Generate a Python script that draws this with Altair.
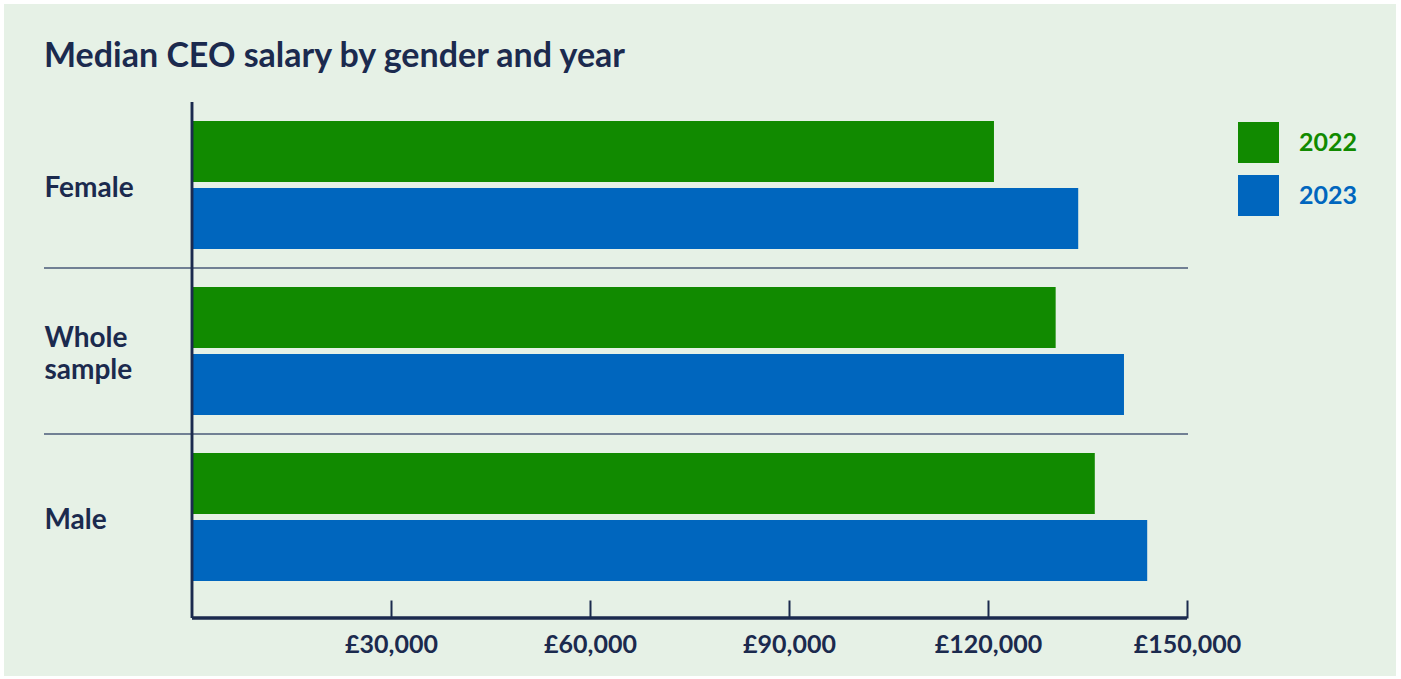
import altair as alt
import pandas as pd

groups = ["Female", "Whole sample", "Male"]
years = ["2022", "2023"]
salary_2022 = [120900, 130200, 136100]
salary_2023 = [133600, 140500, 144000]
tick_values = [30000, 60000, 90000, 120000, 150000]
year_colors = ["#118A00", "#0066BE"]

NAVY = "#1B2A4E"
BG = "#E6F1E6"
FONT = "Lato"

rows = []
for g, a, b in zip(groups, salary_2022, salary_2023):
    rows.append({"group": g, "year": years[0], "salary": a})
    rows.append({"group": g, "year": years[1], "salary": b})
df = pd.DataFrame(rows)
sep_df = pd.DataFrame({"group": groups[1:]})
panel_df = pd.DataFrame({"panel": ["bg"]})

x_scale = alt.Scale(domain=[0, 150000], nice=False, zero=True)
y_scale = alt.Scale(domain=groups, paddingInner=0, paddingOuter=0)

# light-green card behind the chart, leaving a thin white frame
panel = alt.Chart(panel_df).mark_rect(color=BG).encode(
    x=alt.value(-188), x2=alt.value(1204),
    y=alt.value(-98), y2=alt.value(574),
)

bars = alt.Chart(df).mark_bar().encode(
    x=alt.X("salary:Q", scale=x_scale, title=None,
            axis=alt.Axis(values=tick_values, domain=False, grid=False, zindex=1,
                          ticks=True, tickSize=18, tickWidth=2, tickColor=NAVY,
                          labelExpr="'£' + format(datum.value, ',')",
                          labelFlush=False, labelOverlap=False,
                          labelPadding=14, labelFontSize=25, labelFont=FONT,
                          labelFontWeight="bold", labelColor=NAVY)),
    y=alt.Y("group:N", sort=groups, scale=y_scale, title=None,
            axis=alt.Axis(domain=False, ticks=False, tickSize=0, grid=False, zindex=1,
                          labelAlign="left", labelPadding=148, labelFontSize=28,
                          labelFont=FONT, labelFontWeight="bold", labelColor=NAVY,
                          labelLineHeight=32, labelLimit=200,
                          labelOffset=alt.ExprRef("datum.value == 'Whole sample' ? -12 : 4"),
                          labelExpr="datum.value == 'Whole sample' ? ['Whole', 'sample'] : datum.value")),
    yOffset=alt.YOffset("year:N", sort=years,
                        scale=alt.Scale(paddingInner=0.09, paddingOuter=0.284)),
    color=alt.Color("year:N", sort=years,
                    scale=alt.Scale(domain=years, range=year_colors),
                    legend=alt.Legend(title=None, orient="none", legendX=1046, legendY=20,
                                      zindex=1,
                                      symbolType="square", symbolSize=1681,
                                      symbolStrokeWidth=0, symbolOpacity=1,
                                      labelFontSize=25, labelFont=FONT, labelFontWeight="bold",
                                      labelOffset=20, rowPadding=12, padding=0,
                                      labelColor=alt.ExprRef(
                                          "datum.label == '2022' ? '#118A00' : '#0066BE'"))),
)

seps = alt.Chart(sep_df).mark_rule(color="#4A5A78", strokeWidth=1.5).encode(
    y=alt.Y("group:N", sort=groups, scale=y_scale, bandPosition=0),
    x=alt.value(-148),
    x2=alt.value(996),
)

vline = alt.Chart(sep_df).mark_rule(color=NAVY, strokeWidth=2.5).encode(
    x=alt.datum(0),
    y=alt.value(0),
    y2=alt.value(516),
)

hline = alt.Chart(sep_df).mark_rule(color=NAVY, strokeWidth=3).encode(
    x=alt.datum(0),
    x2=alt.datum(150000),
    y=alt.value(516),
)

chart = alt.layer(panel, bars, seps, vline, hline).properties(
    width=995,
    height=498,
    padding={"left": 192, "top": 102, "right": 214, "bottom": 79},
    autosize=alt.AutoSizeParams(type="none"),
    background="#FFFFFF",
    title=alt.Title("Median CEO salary by gender and year", anchor="start", frame="group",
                    font=FONT, fontSize=34, fontWeight="bold", color=NAVY, offset=28,
                    dx=-148, dy=98, zindex=1),
).configure_view(stroke=None)

chart.save("out.html", embed_options={"renderer": "svg", "actions": False})
